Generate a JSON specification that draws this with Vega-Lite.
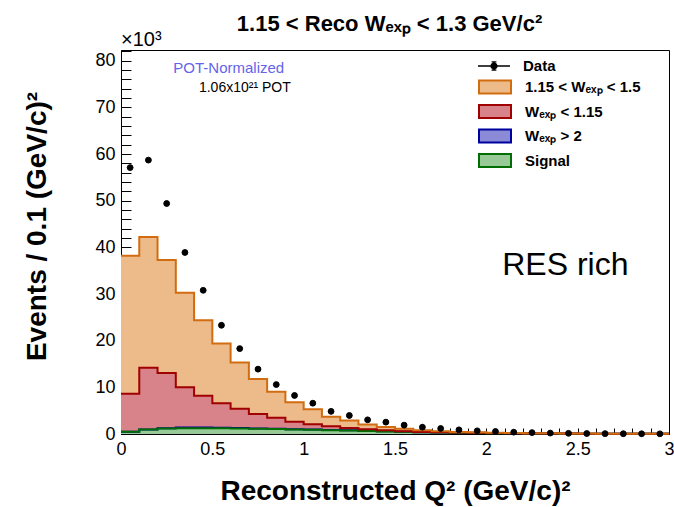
{
  "$schema": "https://vega.github.io/schema/vega-lite/v6.json",
  "autosize": "none",
  "width": 548,
  "height": 384,
  "padding": {"left": 121, "top": 50, "right": 5, "bottom": 73},
  "background": "white",
  "datasets": {
    "mc": [
      {"q": 0.0, "wmid": 29.6, "wlt115": 8.1, "wgt2": 0, "signal": 0.5},
      {"q": 0.1, "wmid": 28.0, "wlt115": 13.24, "wgt2": 0.01, "signal": 0.95},
      {"q": 0.2, "wmid": 24.25, "wlt115": 11.8, "wgt2": 0.05, "signal": 1.2},
      {"q": 0.3, "wmid": 20.3, "wlt115": 8.6, "wgt2": 0.15, "signal": 1.25},
      {"q": 0.4, "wmid": 16.2, "wlt115": 6.8, "wgt2": 0.15, "signal": 1.25},
      {"q": 0.5, "wmid": 12.8, "wlt115": 5.26, "wgt2": 0.12, "signal": 1.22},
      {"q": 0.6, "wmid": 9.9, "wlt115": 4.12, "wgt2": 0.1, "signal": 1.18},
      {"q": 0.7, "wmid": 7.5, "wlt115": 3.1, "wgt2": 0.08, "signal": 1.12},
      {"q": 0.8, "wmid": 5.55, "wlt115": 2.39, "wgt2": 0.06, "signal": 1.05},
      {"q": 0.9, "wmid": 4.2, "wlt115": 1.57, "wgt2": 0.05, "signal": 0.98},
      {"q": 1.0, "wmid": 3.2, "wlt115": 1.16, "wgt2": 0.04, "signal": 0.9},
      {"q": 1.1, "wmid": 2.05, "wlt115": 0.8, "wgt2": 0.03, "signal": 0.82},
      {"q": 1.2, "wmid": 1.6, "wlt115": 0.52, "wgt2": 0.03, "signal": 0.75},
      {"q": 1.3, "wmid": 1.05, "wlt115": 0.33, "wgt2": 0.02, "signal": 0.65},
      {"q": 1.4, "wmid": 0.72, "wlt115": 0.21, "wgt2": 0.02, "signal": 0.55},
      {"q": 1.5, "wmid": 0.5, "wlt115": 0.12, "wgt2": 0.01, "signal": 0.47},
      {"q": 1.6, "wmid": 0.35, "wlt115": 0.06, "wgt2": 0.01, "signal": 0.38},
      {"q": 1.7, "wmid": 0.21, "wlt115": 0.04, "wgt2": 0.01, "signal": 0.32},
      {"q": 1.8, "wmid": 0.15, "wlt115": 0.02, "wgt2": 0.01, "signal": 0.27},
      {"q": 1.9, "wmid": 0.1, "wlt115": 0.02, "wgt2": 0.01, "signal": 0.22},
      {"q": 2.0, "wmid": 0.07, "wlt115": 0.01, "wgt2": 0.01, "signal": 0.18},
      {"q": 2.1, "wmid": 0.05, "wlt115": 0.01, "wgt2": 0.01, "signal": 0.14},
      {"q": 2.2, "wmid": 0.04, "wlt115": 0.01, "wgt2": 0.01, "signal": 0.11},
      {"q": 2.3, "wmid": 0.03, "wlt115": 0.01, "wgt2": 0.01, "signal": 0.09},
      {"q": 2.4, "wmid": 0.02, "wlt115": 0.01, "wgt2": 0.01, "signal": 0.08},
      {"q": 2.5, "wmid": 0.02, "wlt115": 0.01, "wgt2": 0, "signal": 0.07},
      {"q": 2.6, "wmid": 0.01, "wlt115": 0.01, "wgt2": 0, "signal": 0.06},
      {"q": 2.7, "wmid": 0.01, "wlt115": 0.01, "wgt2": 0, "signal": 0.05},
      {"q": 2.8, "wmid": 0.01, "wlt115": 0.01, "wgt2": 0, "signal": 0.04},
      {"q": 2.9, "wmid": 0.01, "wlt115": 0.005, "wgt2": 0, "signal": 0.035},
      {"q": 3.0, "wmid": 0.01, "wlt115": 0.005, "wgt2": 0, "signal": 0.035}
    ],
    "obs": [
      {"qc": 0.05, "n": 57.1}, {"qc": 0.15, "n": 58.7}, {"qc": 0.25, "n": 49.4},
      {"qc": 0.35, "n": 38.9}, {"qc": 0.45, "n": 30.8}, {"qc": 0.55, "n": 23.3},
      {"qc": 0.65, "n": 18.3}, {"qc": 0.75, "n": 13.9}, {"qc": 0.85, "n": 10.6},
      {"qc": 0.95, "n": 8.26}, {"qc": 1.05, "n": 6.6}, {"qc": 1.15, "n": 4.85},
      {"qc": 1.25, "n": 3.97}, {"qc": 1.35, "n": 3.04}, {"qc": 1.45, "n": 2.54},
      {"qc": 1.55, "n": 1.9}, {"qc": 1.65, "n": 1.46}, {"qc": 1.75, "n": 1.18},
      {"qc": 1.85, "n": 0.89}, {"qc": 1.95, "n": 0.68}, {"qc": 2.05, "n": 0.54},
      {"qc": 2.15, "n": 0.39}, {"qc": 2.25, "n": 0.3}, {"qc": 2.35, "n": 0.2},
      {"qc": 2.45, "n": 0.15}, {"qc": 2.55, "n": 0.1}, {"qc": 2.65, "n": 0.08},
      {"qc": 2.75, "n": 0.06}, {"qc": 2.85, "n": 0.05}, {"qc": 2.95, "n": 0.04}
    ]
  },
  "layer": [
    {
      "data": {"name": "mc"},
      "transform": [{"fold": ["signal", "wgt2", "wlt115", "wmid"], "as": ["comp", "v"]}],
      "mark": {"type": "area", "interpolate": "step-after", "opacity": 1},
      "encoding": {
        "x": {"field": "q", "type": "quantitative", "scale": {"domain": [0, 3], "nice": false, "zero": false},
          "axis": {"title": "Reconstructed Q² (GeV/c)²", "values": [0,0.1,0.2,0.3,0.4,0.5,0.6,0.7,0.8,0.9,1,1.1,1.2,1.3,1.4,1.5,1.6,1.7,1.8,1.9,2,2.1,2.2,2.3,2.4,2.5,2.6,2.7,2.8,2.9,3], "tickCount": 200,
            "labelExpr": "abs(datum.value*2 - round(datum.value*2)) < 0.000001 ? format(datum.value, '~g') : ''",
            "tickSize": -6, "labelPadding": 12, "titleY": 65, "titleBaseline": "alphabetic", "labelFlush": false, "labelOverlap": false}},
        "y": {"field": "v", "type": "quantitative", "stack": "zero", "scale": {"domain": [0, 82.3], "nice": false},
          "axis": {"title": "Events / 0.1 (GeV/c)²", "values": [0,2,4,6,8,10,12,14,16,18,20,22,24,26,28,30,32,34,36,38,40,42,44,46,48,50,52,54,56,58,60,62,64,66,68,70,72,74,76,78,80,82], "tickCount": 200,
            "labelExpr": "datum.value % 10 === 0 ? format(datum.value, '~g') : ''",
            "tickSize": -10, "labelPadding": 16, "titleX": -70, "titleY": 176, "titleAlign": "center", "titleBaseline": "bottom", "labelOverlap": false}},
        "fill": {"field": "comp", "type": "nominal",
          "scale": {"domain": ["wmid", "wlt115", "wgt2", "signal"], "range": ["#EDBA8A", "#D8828A", "#8A8AD6", "#98CA98"]},
          "legend": {
            "title": null, "orient": "none", "legendX": 365, "legendY": 28,
            "labelExpr": "datum.value === 'wmid' ? '1.15 < Wₑₓₚ < 1.5' : datum.value === 'wlt115' ? 'Wₑₓₚ < 1.15' : datum.value === 'wgt2' ? 'Wₑₓₚ > 2' : 'Signal'",
            "symbolType": "M-2,-0.8H2V0.8H-2Z", "symbolSize": 256, "labelOffset": 21, "rowPadding": 2.5, "symbolStrokeWidth": 2, "symbolOpacity": 1}},
        "order": {"field": "comp", "sort": "ascending"}
      }
    },
    {
      "data": {"name": "mc"},
      "transform": [{"fold": ["wgt2", "signal", "wlt115", "wmid"], "as": ["comp", "v"]}],
      "mark": {"type": "line", "interpolate": "step-after", "strokeWidth": 2},
      "encoding": {
        "x": {"field": "q", "type": "quantitative",
          "axis": {"title": "Reconstructed Q² (GeV/c)²", "values": [0,0.1,0.2,0.3,0.4,0.5,0.6,0.7,0.8,0.9,1,1.1,1.2,1.3,1.4,1.5,1.6,1.7,1.8,1.9,2,2.1,2.2,2.3,2.4,2.5,2.6,2.7,2.8,2.9,3], "tickCount": 200,
            "labelExpr": "abs(datum.value*2 - round(datum.value*2)) < 0.000001 ? format(datum.value, '~g') : ''",
            "tickSize": -6, "labelPadding": 12, "titleY": 65, "titleBaseline": "alphabetic", "labelFlush": false, "labelOverlap": false}},
        "y": {"field": "v", "type": "quantitative", "stack": "zero",
          "axis": {"title": "Events / 0.1 (GeV/c)²", "values": [0,2,4,6,8,10,12,14,16,18,20,22,24,26,28,30,32,34,36,38,40,42,44,46,48,50,52,54,56,58,60,62,64,66,68,70,72,74,76,78,80,82], "tickCount": 200,
            "labelExpr": "datum.value % 10 === 0 ? format(datum.value, '~g') : ''",
            "tickSize": -10, "labelPadding": 16, "titleX": -70, "titleY": 176, "titleAlign": "center", "titleBaseline": "bottom", "labelOverlap": false}},
        "stroke": {"field": "comp", "type": "nominal",
          "scale": {"domain": ["wmid", "wlt115", "wgt2", "signal"], "range": ["#D26C10", "#A00000", "#0000A0", "#006E00"]},
          "legend": {"title": null, "orient": "none", "legendX": 365, "legendY": 28, "symbolType": "M-2,-0.8H2V0.8H-2Z", "symbolSize": 256, "labelOffset": 21, "rowPadding": 2.5, "symbolStrokeWidth": 2}},
        "order": {"field": "comp", "sort": "ascending"},
        "detail": {"field": "comp"}
      }
    },
    {
      "data": {"name": "obs"},
      "mark": {"type": "point", "filled": true, "shape": "circle", "size": 34, "color": "black", "stroke": "black", "strokeWidth": 1},
      "encoding": {
        "x": {"field": "qc", "type": "quantitative",
          "axis": {"title": "Reconstructed Q² (GeV/c)²", "values": [0,0.1,0.2,0.3,0.4,0.5,0.6,0.7,0.8,0.9,1,1.1,1.2,1.3,1.4,1.5,1.6,1.7,1.8,1.9,2,2.1,2.2,2.3,2.4,2.5,2.6,2.7,2.8,2.9,3], "tickCount": 200,
            "labelExpr": "abs(datum.value*2 - round(datum.value*2)) < 0.000001 ? format(datum.value, '~g') : ''",
            "tickSize": -6, "labelPadding": 12, "titleY": 65, "titleBaseline": "alphabetic", "labelFlush": false, "labelOverlap": false}},
        "y": {"field": "n", "type": "quantitative",
          "axis": {"title": "Events / 0.1 (GeV/c)²", "values": [0,2,4,6,8,10,12,14,16,18,20,22,24,26,28,30,32,34,36,38,40,42,44,46,48,50,52,54,56,58,60,62,64,66,68,70,72,74,76,78,80,82], "tickCount": 200,
            "labelExpr": "datum.value % 10 === 0 ? format(datum.value, '~g') : ''",
            "tickSize": -10, "labelPadding": 16, "titleX": -70, "titleY": 176, "titleAlign": "center", "titleBaseline": "bottom", "labelOverlap": false}},
        "opacity": {"datum": "Data", "type": "nominal", "scale": {"range": [1]},
          "legend": {"title": null, "orient": "none", "legendX": 365, "legendY": 8,
            "symbolType": "M-2,-0.1H2V0.1H-2Z M-0.09,-0.6H0.09V0.6H-0.09Z M-0.3,-0.6H0.3V-0.45H-0.3Z M-0.3,0.45H0.3V0.6H-0.3Z M0.45,0A0.45,0.45,0,1,1,-0.45,0A0.45,0.45,0,1,1,0.45,0Z", "symbolSize": 256, "labelOffset": 21,
            "symbolFillColor": "black", "symbolStrokeColor": "black", "symbolStrokeWidth": 0}}
      }
    },
    {
      "data": {"values": [{}]},
      "mark": {"type": "text", "text": "1.15 < Reco Wₑₓₚ < 1.3 GeV/c²", "font": "Liberation Sans", "fontWeight": "bold", "fontSize": 22, "align": "center", "baseline": "alphabetic", "dy": -19, "color": "black"},
      "encoding": {"x": {"datum": 1.47, "type": "quantitative"}, "y": {"datum": 82.3, "type": "quantitative"}}
    },
    {
      "data": {"values": [{}]},
      "mark": {"type": "text", "text": "×10³", "font": "Liberation Sans", "fontSize": 20, "align": "left", "baseline": "alphabetic", "dy": -4, "color": "black"},
      "encoding": {"x": {"datum": 0, "type": "quantitative"}, "y": {"datum": 82.3, "type": "quantitative"}}
    },
    {
      "data": {"values": [{}]},
      "mark": {"type": "text", "text": "POT-Normalized", "font": "Liberation Sans", "fontSize": 15, "align": "center", "baseline": "alphabetic", "color": "#6464E8"},
      "encoding": {"x": {"datum": 0.59, "type": "quantitative"}, "y": {"datum": 77.4, "type": "quantitative"}}
    },
    {
      "data": {"values": [{}]},
      "mark": {"type": "text", "text": "1.06x10²¹ POT", "font": "Liberation Sans", "fontSize": 14, "align": "center", "baseline": "alphabetic", "color": "black"},
      "encoding": {"x": {"datum": 0.678, "type": "quantitative"}, "y": {"datum": 73.3, "type": "quantitative"}}
    },
    {
      "data": {"values": [{}]},
      "mark": {"type": "text", "text": "RES rich", "font": "Liberation Sans", "fontSize": 32, "align": "left", "baseline": "alphabetic", "color": "black"},
      "encoding": {"x": {"datum": 2.087, "type": "quantitative"}, "y": {"datum": 34.0, "type": "quantitative"}}
    }
  ],
  "config": {
    "view": {"stroke": "black", "strokeWidth": 1},
    "axis": {"grid": false, "domainColor": "black", "tickColor": "black", "labelFont": "Liberation Sans", "labelFontSize": 18, "labelColor": "black", "titleFont": "Liberation Sans", "titleFontWeight": "bold", "titleFontSize": 28, "titleColor": "black", "zindex": 1},
    "legend": {"labelFont": "Liberation Sans", "labelFontWeight": "bold", "labelFontSize": 15, "labelColor": "black", "padding": 0}
  }
}
